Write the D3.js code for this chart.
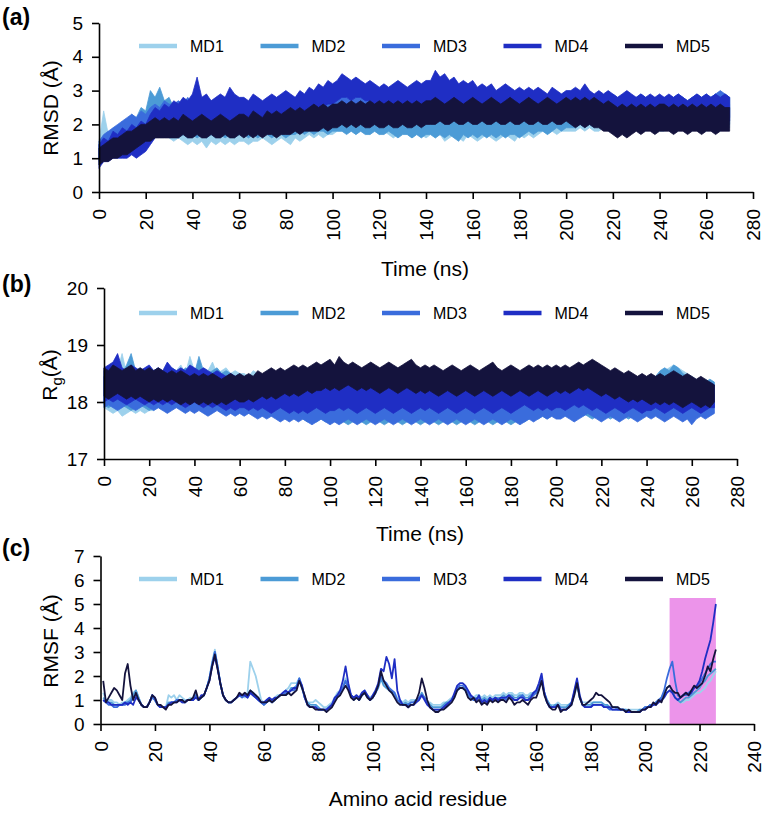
<!DOCTYPE html>
<html><head><meta charset="utf-8">
<script src="https://cdn.jsdelivr.net/npm/d3@7"></script>
<style>
body{margin:0;background:#fff}
svg{display:block}
text{font-family:"Liberation Sans",Arial,sans-serif;fill:#000}
</style>
</head><body>
<svg id="chart" width="769" height="814"></svg>
<script>
// ---------- DATA ----------
const seriesNames = ["MD1","MD2","MD3","MD4","MD5"];
const seriesColors = ["#9dd1ec","#4c9bd6","#3a6cdc","#1f2ec4","#14133d"];
const timeStepNs = 2;   // samples at 0,2,...,270 ns; each sample gives the upper / lower extent of the fluctuating trace

// RMSD (Å) upper and lower extents
const rmsdMD1Hi = [1.5,2.4,1.7,1.9,1.8,2.1,1.9,2.2,2.0,2.4,2.3, 2.8,2.6,2.9,2.5,2.4,
2.2,2.0,2.3,2.1,2.0,2.2,2.1,2.0,2.2,2.0,2.1,2.2,2.0,2.1,2.0,
2.1,2.2,2.0,2.1,2.2,2.0,2.1,2.2,2.1,2.0,2.2,2.1,2.2,2.3,2.1,2.2,2.3,2.2,2.3,2.2,
2.3,2.6,2.4,2.7,2.5,2.4,2.3,2.4,2.2,2.3,2.2,2.4,2.3,2.2,2.3,2.2,2.4,2.3,2.2,2.3,
2.2,2.3,2.1,2.2,2.3,2.2,2.1,2.2,2.3,2.1,2.2,2.3,2.2,2.1,2.2,2.3,2.2,2.1,2.2,2.3,2.2,2.1,2.2,2.3,2.2,2.2,2.3,2.2,2.3,2.3,
2.3,2.4,2.3,2.4,2.5,2.4,2.3,2.4,2.5,2.4,2.3,2.4,2.5,2.4,2.5,2.4,2.5,2.6,2.5,2.4,
2.5,2.6,2.5,2.6,2.5,2.6,2.7,2.6,2.7,2.8,2.7,2.9,2.8,2.7,2.6];
const rmsdMD1Lo = [0.8,1.0,1.1,1.2,1.2,1.3,1.3,1.4,1.5,1.5,1.6, 1.7,1.7,1.8,1.7,1.6,
1.5,1.6,1.5,1.4,1.5,1.4,1.5,1.3,1.5,1.4,1.5,1.4,1.5,1.4,1.5,
1.5,1.4,1.5,1.5,1.6,1.5,1.4,1.5,1.6,1.5,1.4,1.6,1.5,1.6,1.7,1.6,1.7,1.6,1.7,1.7,
1.8,1.8,1.9,1.8,1.7,1.8,1.8,1.7,1.8,1.7,1.8,1.7,1.6,1.7,1.8,1.7,1.6,1.7,1.7,1.6,
1.7,1.6,1.7,1.5,1.6,1.7,1.6,1.5,1.7,1.6,1.5,1.6,1.7,1.6,1.5,1.6,1.7,1.6,1.5,1.7,1.6,1.7,1.6,1.7,1.8,1.7,1.8,1.7,1.8,1.8,
1.8,1.8,1.9,1.8,1.9,1.8,1.8,1.9,1.8,1.9,1.8,1.9,1.9,1.8,1.9,1.9,1.8,1.9,1.9,1.8,
1.8,1.9,1.9,1.8,1.9,1.9,1.8,1.9,1.9,1.8,1.9,1.9,1.8,1.9,1.9];
const rmsdMD2Hi = [1.4,1.6,1.8,1.7,1.9,2.0,2.1,2.3,2.2,2.5,2.4, 3.0,2.8,3.1,2.7,2.8,
2.5,2.6,2.4,2.7,2.5,2.4,2.6,2.5,2.4,2.6,2.5,2.4,2.6,2.5,2.4,
2.5,2.4,2.6,2.5,2.4,2.5,2.6,2.4,2.5,2.4,2.5,2.6,2.5,2.4,2.5,2.6,2.5,2.4,2.5,2.5,
2.5,2.4,2.5,2.4,2.3,2.4,2.3,2.4,2.3,2.2,2.3,2.4,2.3,2.2,2.3,2.4,2.3,2.2,2.3,2.2,
2.2,2.1,2.2,2.1,2.2,2.1,2.2,2.2,2.1,2.2,2.1,2.2,2.1,2.2,2.1,2.2,2.1,2.2,2.1,2.2,2.2,2.1,2.2,2.3,2.2,2.3,2.2,2.3,2.3,2.4,
2.4,2.5,2.4,2.5,2.4,2.5,2.6,2.5,2.4,2.5,2.6,2.5,2.6,2.5,2.6,2.5,2.6,2.5,2.6,2.6,
2.6,2.7,2.6,2.7,2.6,2.7,2.8,2.7,2.8,2.7,2.8,2.9,2.8,2.9,2.8];
const rmsdMD2Lo = [0.9,1.0,1.1,1.2,1.2,1.3,1.4,1.4,1.5,1.6,1.6, 1.8,1.8,1.9,1.8,1.8,
1.7,1.6,1.7,1.6,1.7,1.6,1.7,1.6,1.7,1.6,1.7,1.6,1.7,1.6,1.7,
1.7,1.6,1.7,1.6,1.7,1.7,1.6,1.7,1.7,1.6,1.7,1.7,1.8,1.7,1.8,1.7,1.8,1.8,1.7,1.8,
1.8,1.8,1.7,1.8,1.7,1.8,1.7,1.7,1.8,1.7,1.7,1.8,1.7,1.6,1.7,1.7,1.6,1.7,1.6,1.7,
1.7,1.6,1.7,1.6,1.7,1.6,1.5,1.7,1.6,1.7,1.6,1.7,1.6,1.7,1.6,1.7,1.6,1.7,1.7,1.6,1.7,1.8,1.7,1.8,1.8,1.7,1.8,1.9,1.8,1.9,
1.9,1.9,2.0,1.9,2.0,1.9,2.0,1.9,2.0,1.9,2.0,1.9,2.0,2.0,1.9,2.0,2.0,1.9,2.0,2.0,
2.0,2.0,1.9,2.0,2.0,1.9,2.0,2.0,2.0,1.9,2.0,2.0,1.9,2.0,2.0];
const rmsdMD3Hi = [1.5,1.7,1.8,1.9,2.0,2.1,2.2,2.3,2.2,2.4,2.3, 2.5,2.6,2.5,2.7,2.6,
2.6,2.7,2.6,2.8,2.6,2.7,2.6,2.8,2.7,2.6,2.7,2.8,2.6,2.7,2.6,
2.7,2.6,2.8,2.7,2.6,2.7,2.8,2.7,2.6,2.8,2.7,2.8,2.7,2.8,2.9,2.8,2.7,2.8,2.9,2.8,
2.8,2.9,2.8,2.7,2.8,2.9,2.8,2.7,2.8,2.9,2.8,2.7,2.8,2.9,2.8,2.7,2.8,2.9,2.8,2.7,
2.8,2.9,2.8,2.7,2.8,2.9,2.8,2.7,2.8,2.9,2.8,2.7,2.8,2.9,2.8,2.7,2.8,2.9,2.8,2.7,2.8,2.9,2.8,2.7,2.8,2.8,2.7,2.8,2.9,2.8,
2.8,2.7,2.8,2.9,2.8,2.7,2.8,2.7,2.8,2.9,2.8,2.7,2.8,2.7,2.8,2.9,2.8,2.7,2.8,2.7,
2.8,2.7,2.8,2.9,2.8,2.7,2.8,2.9,2.8,2.9,2.8,2.9,3.0,2.9,2.8];
const rmsdMD3Lo = [1.0,1.0,1.1,1.2,1.3,1.4,1.4,1.5,1.5,1.6,1.6, 1.7,1.8,1.8,1.7,1.8,
1.9,1.9,2.0,1.9,2.0,1.9,2.0,1.9,2.0,1.9,2.0,1.9,2.0,1.9,2.0,
2.0,1.9,2.0,2.0,1.9,2.0,2.0,2.1,2.0,2.0,2.1,2.0,2.1,2.1,2.0,2.1,2.1,2.2,2.1,2.2,
2.1,2.2,2.1,2.2,2.1,2.2,2.2,2.1,2.2,2.1,2.2,2.2,2.1,2.2,2.1,2.2,2.2,2.1,2.2,2.1,
2.1,2.2,2.1,2.2,2.1,2.2,2.1,2.2,2.1,2.2,2.1,2.2,2.1,2.2,2.1,2.2,2.1,2.2,2.1,2.2,2.1,2.2,2.1,2.2,2.1,2.2,2.1,2.2,2.1,2.2,
2.1,2.2,2.1,2.2,2.1,2.1,2.2,2.1,2.1,2.2,2.1,2.1,2.2,2.1,2.1,2.2,2.1,2.1,2.2,2.1,
2.1,2.1,2.2,2.1,2.1,2.2,2.1,2.1,2.2,2.1,2.1,2.2,2.1,2.1,2.2];
const rmsdMD4Hi = [1.4,1.6,1.5,1.8,1.7,1.9,1.8,2.0,1.9,2.1,2.0, 2.3,2.5,2.4,2.6,2.5,
2.7,2.6,2.8,2.7,2.9,3.4,2.8,2.9,2.7,2.8,2.9,2.8,3.1,2.9,2.8,
2.8,2.7,2.9,2.8,2.7,2.8,2.9,2.8,2.9,3.0,2.9,2.8,3.0,2.9,3.1,3.0,3.2,3.1,3.3,3.2,
3.3,3.5,3.4,3.3,3.4,3.3,3.2,3.3,3.2,3.1,3.2,3.1,3.2,3.3,3.2,3.1,3.2,3.3,3.2,3.3,
3.3,3.6,3.4,3.5,3.3,3.4,3.2,3.3,3.2,3.3,3.1,3.2,3.1,3.2,3.0,3.1,3.2,3.1,3.0,3.1,3.0,3.1,3.0,3.1,3.0,2.9,3.1,3.0,2.9,3.0,
3.0,3.1,3.0,3.2,3.0,2.9,3.0,2.9,3.0,2.9,2.8,2.9,3.0,2.9,2.8,2.9,2.8,2.9,2.8,2.9,
2.8,2.9,2.8,2.9,2.8,2.7,2.8,2.9,2.8,2.9,2.8,2.9,2.8,2.9,2.8];
const rmsdMD4Lo = [0.7,0.9,0.9,1.0,1.0,1.0,1.0,1.1,1.0,1.1,1.2, 1.4,1.6,1.7,1.8,1.8,
1.9,1.9,2.0,1.9,2.0,2.0,1.9,2.0,2.0,1.9,2.0,2.0,2.0,1.9,2.0,
2.0,2.0,2.1,2.0,2.0,2.1,2.1,2.0,2.1,2.2,2.1,2.2,2.2,2.3,2.3,2.4,2.4,2.5,2.6,2.6,
2.7,2.8,2.8,2.7,2.8,2.8,2.7,2.7,2.6,2.6,2.6,2.5,2.5,2.6,2.5,2.5,2.5,2.6,2.5,2.5,
2.5,2.6,2.5,2.6,2.5,2.4,2.5,2.4,2.5,2.4,2.4,2.3,2.4,2.3,2.4,2.3,2.4,2.3,2.4,2.3,2.3,2.4,2.3,2.3,2.4,2.3,2.3,2.2,2.3,2.3,
2.2,2.3,2.2,2.2,2.3,2.2,2.2,2.1,2.2,2.1,2.0,2.1,2.1,2.2,2.1,2.1,2.2,2.1,2.1,2.2,
2.1,2.1,2.2,2.1,2.1,2.2,2.1,2.1,2.2,2.1,2.1,2.2,2.1,2.1,2.1];
const rmsdMD5Hi = [1.3,1.4,1.5,1.6,1.6,1.7,1.8,1.8,1.9,2.0,2.0, 2.1,2.2,2.1,2.2,2.1,
2.2,2.1,2.3,2.2,2.1,2.2,2.3,2.2,2.1,2.2,2.3,2.2,2.1,2.2,2.3,
2.3,2.2,2.4,2.3,2.2,2.4,2.3,2.4,2.3,2.4,2.5,2.4,2.5,2.4,2.5,2.6,2.5,2.6,2.5,2.6,
2.6,2.7,2.6,2.7,2.6,2.7,2.6,2.7,2.6,2.7,2.6,2.7,2.6,2.7,2.6,2.7,2.6,2.7,2.6,2.7,
2.7,2.8,2.7,2.6,2.7,2.8,2.7,2.6,2.7,2.8,2.7,2.6,2.7,2.8,2.7,2.6,2.7,2.8,2.7,2.6,2.7,2.8,2.7,2.6,2.7,2.8,2.7,2.6,2.7,2.8,
2.7,2.8,2.7,2.8,2.7,2.8,2.7,2.6,2.7,2.6,2.5,2.6,2.5,2.6,2.5,2.6,2.5,2.6,2.5,2.6,
2.6,2.5,2.6,2.5,2.6,2.5,2.6,2.5,2.6,2.5,2.6,2.5,2.6,2.5,2.5];
const rmsdMD5Lo = [0.8,0.9,0.9,1.0,1.0,1.1,1.1,1.2,1.3,1.4,1.5, 1.5,1.6,1.6,1.6,1.6,
1.6,1.6,1.7,1.6,1.6,1.7,1.6,1.6,1.7,1.6,1.6,1.7,1.6,1.6,1.7,
1.6,1.7,1.6,1.7,1.6,1.7,1.7,1.6,1.7,1.7,1.7,1.8,1.7,1.8,1.8,1.8,1.8,1.9,1.8,1.9,
1.9,2.0,1.9,2.0,1.9,2.0,1.9,1.9,2.0,1.9,1.9,2.0,1.9,1.9,2.0,1.9,1.9,2.0,1.9,2.0,
2.0,2.0,2.1,2.0,2.0,2.1,2.0,2.0,2.1,2.0,2.0,2.1,2.0,2.0,2.1,2.0,2.0,2.1,2.0,2.0,2.1,2.0,2.0,2.1,2.0,2.0,2.1,2.0,2.0,2.1,
2.0,1.9,2.0,1.9,2.0,1.9,1.9,1.8,1.8,1.7,1.6,1.7,1.6,1.7,1.8,1.7,1.8,1.8,1.7,1.8,
1.8,1.8,1.7,1.8,1.8,1.7,1.8,1.8,1.7,1.8,1.8,1.7,1.8,1.8,1.8];

// Rg (Å) upper and lower extents
const rgMD1Hi = [18.45,18.60,18.50,18.55,18.85,18.50,18.45,18.60,18.50,18.45,18.55,
18.50,18.55,18.45,18.60,18.50,18.55,18.65,18.50,18.80,18.55,18.50,18.60,18.55,18.70,18.50,18.55,18.60,18.50,18.55,18.50,
18.50,18.45,18.55,18.50,18.45,18.55,18.50,18.45,18.50,18.55,18.50,18.45,18.50,18.55,18.60,18.50,18.55,18.50,18.45,18.50,
18.40,18.35,18.30,18.35,18.25,18.30,18.25,18.20,18.25,18.20,18.25,18.20,18.15,18.20,18.25,18.20,18.15,18.20,18.25,18.20,
18.20,18.25,18.40,18.20,18.15,18.20,18.25,18.20,18.15,18.20,18.25,18.20,18.15,18.20,18.25,18.20,18.15,18.20,18.25,18.20,18.15,18.20,18.25,18.20,18.15,18.20,18.25,18.20,18.25,18.30,
18.30,18.25,18.30,18.35,18.30,18.25,18.30,18.35,18.30,18.25,18.30,18.35,18.30,18.25,18.30,18.35,18.30,18.25,18.30,18.35,
18.35,18.40,18.50,18.55,18.60,18.65,18.60,18.55,18.50,18.45,18.40,18.35,18.40,18.35,18.30];
const rgMD1Lo = [17.90,17.85,17.80,17.85,17.75,17.80,17.85,17.80,17.85,17.80,17.85,
17.85,17.90,17.85,17.90,17.95,17.90,17.95,17.90,17.95,18.00,17.95,18.00,17.95,18.00,17.95,18.00,17.95,18.00,17.95,17.95,
17.95,17.90,17.95,17.90,17.95,17.90,17.85,17.90,17.85,17.90,17.85,17.90,17.85,17.80,17.85,17.80,17.85,17.80,17.85,17.80,
17.80,17.75,17.80,17.75,17.70,17.75,17.70,17.75,17.70,17.65,17.70,17.75,17.70,17.65,17.70,17.75,17.70,17.65,17.70,17.65,
17.70,17.65,17.70,17.75,17.70,17.65,17.70,17.75,17.70,17.65,17.70,17.75,17.70,17.65,17.70,17.75,17.70,17.65,17.70,17.75,17.70,17.65,17.70,17.75,17.70,17.75,17.80,17.75,17.80,17.75,
17.80,17.75,17.80,17.85,17.80,17.75,17.80,17.85,17.80,17.75,17.80,17.85,17.80,17.75,17.80,17.85,17.80,17.75,17.80,17.85,
17.85,17.90,17.95,18.00,18.05,18.00,17.95,17.90,17.85,17.90,17.85,17.90,17.85,17.90,17.95];
const rgMD2Hi = [18.55,18.50,18.60,18.55,18.50,18.65,18.85,18.55,18.60,18.50,18.55,
18.55,18.60,18.50,18.55,18.60,18.55,18.50,18.60,18.55,18.50,18.80,18.55,18.50,18.55,18.60,18.50,18.55,18.50,18.45,18.50,
18.40,18.35,18.30,18.35,18.30,18.25,18.30,18.25,18.20,18.25,18.20,18.15,18.20,18.15,18.10,18.15,18.10,18.05,18.10,18.05,
18.10,18.05,18.10,18.05,18.00,18.05,18.10,18.05,18.00,18.05,18.10,18.05,18.00,18.05,18.10,18.05,18.00,18.05,18.10,18.05,
18.05,18.10,18.05,18.00,18.05,18.10,18.05,18.00,18.05,18.10,18.05,18.00,18.05,18.10,18.05,18.00,18.05,18.10,18.05,18.00,18.05,18.10,18.05,18.10,18.15,18.10,18.15,18.10,18.15,18.20,
18.15,18.20,18.15,18.10,18.15,18.20,18.15,18.10,18.15,18.20,18.15,18.10,18.15,18.20,18.15,18.10,18.15,18.20,18.25,18.30,
18.35,18.45,18.55,18.60,18.55,18.65,18.60,18.50,18.45,18.40,18.35,18.40,18.35,18.40,18.35];
const rgMD2Lo = [17.95,17.90,17.95,17.90,17.95,17.90,17.85,17.90,17.95,17.90,17.85,
17.90,17.95,17.90,17.95,17.90,17.95,17.90,17.95,17.90,17.85,17.90,17.85,17.90,17.85,17.90,17.85,17.90,17.85,17.80,17.85,
17.85,17.80,17.85,17.80,17.75,17.80,17.75,17.80,17.75,17.70,17.75,17.70,17.75,17.70,17.65,17.70,17.65,17.70,17.65,17.70,
17.65,17.70,17.65,17.60,17.65,17.70,17.65,17.60,17.65,17.70,17.65,17.60,17.65,17.70,17.65,17.60,17.65,17.70,17.65,17.60,
17.65,17.70,17.65,17.60,17.65,17.70,17.65,17.60,17.65,17.70,17.65,17.60,17.65,17.70,17.65,17.60,17.65,17.70,17.65,17.60,17.65,17.70,17.65,17.70,17.75,17.70,17.75,17.70,17.75,17.80,
17.75,17.80,17.75,17.70,17.75,17.80,17.75,17.70,17.75,17.80,17.75,17.70,17.75,17.80,17.75,17.70,17.75,17.80,17.85,17.90,
17.90,17.95,18.00,18.05,18.00,18.05,18.00,17.95,17.90,17.85,17.90,17.85,17.90,17.85,17.90];
const rgMD3Hi = [18.45,18.40,18.50,18.45,18.40,18.50,18.45,18.40,18.50,18.45,18.40,
18.40,18.45,18.40,18.35,18.40,18.45,18.40,18.35,18.40,18.35,18.30,18.35,18.30,18.25,18.30,18.35,18.30,18.25,18.30,18.25,
18.25,18.20,18.25,18.20,18.15,18.20,18.15,18.10,18.15,18.20,18.15,18.10,18.15,18.10,18.05,18.10,18.05,18.10,18.05,18.00,
18.05,18.00,18.05,18.00,17.95,18.00,18.05,18.00,17.95,18.00,18.05,18.00,17.95,18.00,18.05,18.00,17.95,18.00,18.05,18.00,
18.00,18.05,18.00,17.95,18.00,18.05,18.00,17.95,18.00,18.05,18.00,17.95,18.00,18.05,18.00,17.95,18.00,18.05,18.00,17.95,18.00,18.05,18.00,17.95,18.00,18.05,18.10,18.05,18.10,18.05,
18.05,18.10,18.05,18.00,18.05,18.10,18.15,18.10,18.05,18.00,18.05,18.10,18.05,18.00,18.05,18.10,18.05,18.00,18.05,18.10,
18.05,18.10,18.05,18.00,18.05,18.10,18.05,18.00,18.05,18.10,18.05,18.00,18.05,18.10,18.15];
const rgMD3Lo = [17.90,17.95,17.90,17.85,17.90,17.95,17.90,17.85,17.90,17.95,17.90,
17.85,17.90,17.85,17.80,17.85,17.90,17.85,17.80,17.85,17.80,17.85,17.80,17.75,17.80,17.85,17.80,17.75,17.80,17.75,17.80,
17.75,17.80,17.75,17.70,17.75,17.70,17.75,17.70,17.65,17.70,17.65,17.70,17.65,17.70,17.65,17.60,17.65,17.70,17.65,17.60,
17.65,17.60,17.65,17.70,17.65,17.60,17.65,17.70,17.65,17.60,17.65,17.70,17.65,17.60,17.65,17.70,17.65,17.60,17.65,17.70,
17.65,17.60,17.65,17.70,17.65,17.60,17.65,17.70,17.65,17.60,17.65,17.70,17.65,17.60,17.65,17.70,17.65,17.60,17.65,17.70,17.65,17.60,17.65,17.70,17.65,17.70,17.75,17.70,17.75,17.70,
17.70,17.75,17.70,17.65,17.70,17.75,17.80,17.75,17.70,17.65,17.70,17.75,17.70,17.65,17.70,17.75,17.70,17.65,17.70,17.75,
17.70,17.75,17.70,17.65,17.70,17.75,17.70,17.65,17.70,17.60,17.70,17.75,17.70,17.75,17.80];
const rgMD4Hi = [18.60,18.65,18.70,18.85,18.60,18.55,18.65,18.60,18.55,18.60,18.65,
18.55,18.60,18.55,18.70,18.60,18.55,18.60,18.55,18.65,18.60,18.55,18.60,18.55,18.50,18.55,18.50,18.45,18.50,18.45,18.40,
18.40,18.45,18.40,18.35,18.40,18.45,18.40,18.35,18.40,18.35,18.30,18.35,18.30,18.35,18.30,18.35,18.40,18.35,18.30,18.35,
18.35,18.40,18.45,18.40,18.35,18.30,18.35,18.30,18.25,18.30,18.35,18.30,18.25,18.30,18.35,18.30,18.25,18.30,18.35,18.30,
18.30,18.25,18.30,18.35,18.30,18.25,18.30,18.35,18.30,18.25,18.30,18.35,18.30,18.25,18.30,18.35,18.30,18.25,18.30,18.35,18.30,18.35,18.40,18.35,18.30,18.35,18.30,18.35,18.30,18.35,
18.35,18.30,18.35,18.40,18.45,18.40,18.45,18.40,18.35,18.30,18.35,18.30,18.25,18.30,18.35,18.30,18.25,18.30,18.35,18.30,
18.30,18.35,18.30,18.25,18.30,18.35,18.30,18.25,18.30,18.35,18.30,18.25,18.30,18.35,18.30];
const rgMD4Lo = [18.00,18.05,18.00,18.05,18.00,17.95,18.00,18.05,18.00,17.95,18.00,
17.95,18.00,17.95,18.00,17.95,18.00,17.95,17.90,17.95,18.00,17.95,17.90,17.95,17.90,17.95,17.90,17.85,17.90,17.85,17.90,
17.90,17.85,17.90,17.85,17.90,17.85,17.80,17.85,17.90,17.85,17.80,17.85,17.80,17.85,17.80,17.85,17.90,17.85,17.80,17.85,
17.85,17.90,17.85,17.90,17.85,17.80,17.85,17.90,17.85,17.80,17.85,17.90,17.85,17.80,17.85,17.90,17.85,17.80,17.85,17.90,
17.85,17.90,17.85,17.80,17.85,17.90,17.85,17.80,17.85,17.90,17.85,17.80,17.85,17.90,17.85,17.80,17.85,17.90,17.85,17.80,17.85,17.90,17.95,17.90,17.85,17.90,17.85,17.90,17.85,17.90,
17.90,17.85,17.90,17.95,17.90,17.95,17.90,17.85,17.90,17.85,17.80,17.85,17.90,17.85,17.80,17.85,17.90,17.85,17.80,17.85,
17.85,17.90,17.85,17.80,17.85,17.90,17.85,17.80,17.85,17.90,17.85,17.80,17.85,17.90,17.90];
const rgMD5Hi = [18.60,18.55,18.65,18.60,18.55,18.60,18.65,18.55,18.60,18.55,18.60,
18.55,18.60,18.55,18.50,18.55,18.50,18.55,18.50,18.45,18.50,18.45,18.50,18.45,18.50,18.45,18.40,18.45,18.50,18.45,18.50,
18.45,18.50,18.45,18.55,18.50,18.55,18.60,18.55,18.60,18.55,18.60,18.65,18.60,18.65,18.60,18.65,18.70,18.65,18.70,18.75,
18.65,18.80,18.70,18.65,18.70,18.65,18.60,18.65,18.70,18.65,18.60,18.65,18.70,18.65,18.60,18.65,18.70,18.75,18.65,18.60,
18.65,18.60,18.65,18.60,18.55,18.60,18.65,18.60,18.55,18.60,18.65,18.60,18.55,18.60,18.65,18.70,18.60,18.55,18.60,18.65,18.60,18.55,18.60,18.65,18.60,18.65,18.60,18.65,18.60,18.65,
18.60,18.65,18.60,18.65,18.70,18.65,18.70,18.75,18.70,18.65,18.60,18.55,18.60,18.55,18.50,18.55,18.50,18.45,18.50,18.45,
18.50,18.45,18.50,18.45,18.50,18.55,18.50,18.45,18.50,18.45,18.40,18.45,18.40,18.35,18.30];
const rgMD5Lo = [18.10,18.05,18.10,18.15,18.10,18.05,18.10,18.05,18.10,18.05,18.00,
18.05,18.00,18.05,18.00,18.05,18.00,17.95,18.00,17.95,18.00,17.95,18.00,17.95,18.00,17.95,18.00,17.95,18.00,18.05,18.00,
18.00,18.05,18.00,18.05,18.10,18.05,18.10,18.05,18.10,18.15,18.10,18.15,18.10,18.15,18.20,18.15,18.20,18.20,18.25,18.20,
18.25,18.20,18.25,18.30,18.25,18.20,18.25,18.20,18.25,18.20,18.15,18.20,18.25,18.20,18.15,18.20,18.25,18.20,18.15,18.20,
18.15,18.20,18.15,18.10,18.15,18.20,18.15,18.10,18.15,18.20,18.15,18.10,18.15,18.20,18.15,18.10,18.15,18.20,18.15,18.10,18.15,18.20,18.15,18.10,18.15,18.20,18.15,18.10,18.15,18.20,
18.15,18.20,18.15,18.20,18.25,18.20,18.25,18.20,18.15,18.10,18.15,18.10,18.05,18.10,18.05,18.00,18.05,18.00,18.05,18.00,
17.95,18.00,17.95,18.00,17.95,18.00,17.95,17.90,17.95,18.00,17.95,17.90,17.95,17.90,18.00];

// RMSF (Å) per residue, residue 1..226
const rmsfMD1 = [1.3,1.0,1.0,1.0,0.9,0.9,0.8,0.9,0.9,1.0,1.1,1.3,1.4,1.1,0.8,0.7,0.7,0.9,1.2,1.0,
0.8,0.7,0.7,0.7,1.2,1.1,1.2,1.0,1.2,1.1,1.0,1.0,1.1,1.0,1.2,1.0,1.1,1.2,1.5,1.9,
2.6,3.1,2.4,1.7,1.2,1.0,0.9,0.9,1.0,1.1,1.2,1.2,1.1,1.3,2.6,2.3,2.0,1.5,1.0,0.9,
0.9,1.0,1.0,1.1,1.2,1.2,1.3,1.4,1.5,1.7,1.7,1.7,1.9,1.5,1.1,0.9,0.9,0.9,1.0,0.9,
0.8,0.7,0.7,0.8,0.9,1.1,1.3,1.4,1.6,1.9,1.6,1.2,1.1,1.2,1.1,1.3,1.4,1.2,1.1,1.2,
1.4,1.6,1.9,1.7,1.6,1.5,1.4,1.3,1.1,1.0,0.9,1.0,0.9,1.0,1.0,1.0,1.1,1.2,1.1,0.9,
0.9,0.8,0.8,0.8,0.8,0.9,0.9,1.0,1.1,1.2,1.4,1.5,1.5,1.4,1.2,1.1,1.1,1.2,1.2,1.1,
1.2,1.1,1.2,1.1,1.2,1.2,1.2,1.3,1.2,1.3,1.3,1.2,1.2,1.3,1.3,1.2,1.2,1.3,1.3,1.4,
1.5,1.8,1.3,1.0,0.8,0.8,0.8,0.9,0.8,0.8,0.8,0.8,0.9,1.2,1.6,1.1,0.9,0.9,0.9,0.9,
0.9,0.9,0.9,0.9,0.8,0.8,0.7,0.7,0.7,0.7,0.6,0.6,0.6,0.6,0.6,0.6,0.6,0.6,0.6,0.7,
0.7,0.8,0.8,0.9,1.0,1.0,1.1,1.3,1.4,1.3,1.1,1.0,0.9,0.9,1.0,1.0,1.1,1.2,1.3,1.3,
1.4,1.5,1.7,1.8,2.0,2.2];
const rmsfMD2 = [1.1,1.0,0.9,0.9,0.8,0.8,0.8,0.8,0.9,0.9,1.0,1.2,1.4,1.1,0.8,0.7,0.7,0.9,1.2,1.0,
0.8,0.7,0.7,0.7,0.9,0.9,0.9,1.0,1.0,1.0,0.9,1.0,1.0,1.0,1.2,1.0,1.1,1.2,1.5,1.9,
2.5,3.0,2.4,1.7,1.2,1.0,0.9,0.9,1.0,1.1,1.2,1.2,1.2,1.2,1.4,1.3,1.2,1.0,0.9,0.8,
0.9,1.0,0.9,1.0,1.1,1.2,1.2,1.2,1.3,1.5,1.5,1.6,1.9,1.5,1.1,0.9,0.8,0.8,0.8,0.7,
0.6,0.6,0.6,0.7,0.8,1.0,1.2,1.3,1.5,1.8,1.5,1.2,1.0,1.1,1.0,1.2,1.3,1.1,1.0,1.1,
1.3,1.5,1.9,1.6,1.5,1.4,1.3,1.2,1.0,0.9,0.8,0.9,0.8,0.9,0.9,1.0,1.1,1.3,1.1,0.9,
0.8,0.7,0.7,0.7,0.7,0.8,0.9,0.9,1.0,1.2,1.4,1.5,1.5,1.4,1.2,1.1,1.0,1.1,1.1,1.0,
1.1,1.0,1.1,1.0,1.1,1.1,1.1,1.2,1.1,1.2,1.2,1.1,1.1,1.2,1.2,1.1,1.1,1.2,1.3,1.3,
1.5,1.8,1.3,1.0,0.8,0.7,0.8,0.8,0.7,0.7,0.7,0.8,0.9,1.3,1.7,1.1,0.8,0.8,0.8,0.8,
0.9,0.9,0.9,0.9,0.8,0.8,0.7,0.7,0.7,0.6,0.6,0.6,0.6,0.5,0.5,0.5,0.5,0.6,0.6,0.7,
0.7,0.8,0.8,0.9,1.0,1.1,1.3,1.5,1.6,1.4,1.1,1.0,0.9,1.0,1.1,1.1,1.2,1.3,1.4,1.5,
1.7,1.8,2.0,2.1,2.2,2.3];
const rmsfMD3 = [1.0,0.9,0.8,0.8,0.7,0.7,0.8,0.8,0.8,0.9,0.9,1.1,1.2,1.0,0.8,0.7,0.7,0.9,1.1,1.0,
0.8,0.7,0.7,0.7,0.8,0.9,0.9,1.0,1.0,0.9,0.9,1.0,1.0,1.0,1.2,1.0,1.1,1.2,1.5,1.9,
2.5,3.0,2.4,1.7,1.2,1.0,0.9,0.9,1.0,1.1,1.2,1.1,1.2,1.1,1.3,1.2,1.1,1.0,0.9,0.8,
0.9,1.0,0.9,1.0,1.1,1.2,1.2,1.3,1.3,1.4,1.4,1.5,1.9,1.6,1.1,0.8,0.7,0.7,0.7,0.6,
0.6,0.6,0.6,0.7,0.8,1.0,1.2,1.3,1.5,1.8,1.5,1.2,1.1,1.1,1.0,1.2,1.3,1.2,1.0,1.1,
1.3,1.6,2.0,1.8,1.7,1.5,1.4,1.3,1.0,0.9,0.8,0.8,0.8,0.9,0.9,1.0,1.1,1.2,1.1,0.9,
0.7,0.6,0.6,0.6,0.6,0.7,0.8,0.9,1.0,1.2,1.5,1.6,1.6,1.5,1.3,1.1,1.0,1.0,1.1,0.9,
1.0,0.9,1.0,1.0,1.1,1.0,1.0,1.1,1.0,1.1,1.1,1.0,1.0,1.1,1.2,1.0,1.0,1.1,1.2,1.3,
1.5,1.9,1.3,0.9,0.7,0.7,0.7,0.8,0.6,0.6,0.6,0.7,0.8,1.3,1.8,1.1,0.8,0.7,0.7,0.7,
0.8,0.8,0.8,0.8,0.7,0.7,0.6,0.6,0.6,0.6,0.6,0.6,0.5,0.5,0.5,0.5,0.5,0.5,0.6,0.7,
0.7,0.8,0.8,0.9,1.0,1.1,1.4,1.9,2.3,2.6,1.8,1.2,1.1,1.2,1.2,1.3,1.4,1.5,1.6,1.7,
1.9,2.1,2.3,2.5,2.6,2.6];
const rmsfMD4 = [1.0,0.9,0.9,0.8,0.8,0.8,0.8,0.8,0.9,0.8,0.9,0.8,1.1,1.0,0.8,0.7,0.7,0.9,1.2,1.1,
0.8,0.7,0.7,0.7,0.8,0.9,0.9,0.9,1.0,0.9,0.9,1.0,1.0,1.0,1.1,1.0,1.2,1.2,1.5,1.8,
2.4,2.8,2.3,1.7,1.2,1.0,0.9,0.9,1.0,1.1,1.2,1.2,1.2,1.1,1.3,1.2,1.1,1.0,0.9,0.9,
1.0,1.1,1.0,1.1,1.1,1.2,1.3,1.4,1.3,1.4,1.5,1.5,1.8,1.6,1.1,0.8,0.7,0.7,0.7,0.6,
0.6,0.6,0.6,0.7,0.8,1.1,1.2,1.4,1.8,2.4,1.7,1.2,1.1,1.2,1.1,1.3,1.4,1.2,1.0,1.2,
1.4,1.7,2.3,2.2,2.8,2.5,1.9,2.7,1.4,1.0,0.8,0.8,0.7,0.8,0.8,0.9,1.0,1.2,1.0,0.8,
0.7,0.6,0.6,0.6,0.6,0.7,0.8,0.9,1.0,1.3,1.6,1.7,1.7,1.6,1.4,1.2,1.1,1.0,1.2,0.9,
1.0,0.9,1.1,1.0,1.1,1.0,1.1,1.1,1.1,1.2,1.1,1.0,1.0,1.1,1.1,1.0,1.0,1.1,1.3,1.4,
1.7,2.1,1.3,0.9,0.7,0.7,0.7,0.8,0.6,0.6,0.6,0.7,0.9,1.4,1.9,1.2,0.8,0.7,0.7,0.7,
0.8,0.8,0.8,0.8,0.7,0.7,0.7,0.6,0.6,0.6,0.6,0.6,0.5,0.5,0.5,0.5,0.5,0.5,0.6,0.6,
0.7,0.7,0.8,0.8,0.9,1.0,1.1,1.3,1.4,1.3,1.1,1.0,1.1,1.2,1.3,1.2,1.3,1.5,1.6,1.8,
2.2,2.7,3.1,3.5,4.2,5.0];
const rmsfMD5 = [1.8,0.9,1.1,1.3,1.5,1.4,1.2,1.0,2.1,2.5,1.6,1.0,1.3,1.0,0.8,0.7,0.7,0.9,1.2,1.1,
0.8,0.8,0.7,0.6,0.8,0.8,0.9,0.9,1.0,1.0,0.9,1.0,1.0,1.1,1.4,1.0,1.1,1.2,1.5,1.8,
2.4,2.9,2.3,1.7,1.2,1.0,0.9,0.9,1.0,1.1,1.3,1.2,1.3,1.2,1.4,1.3,1.2,1.1,0.9,0.9,
0.9,1.0,0.9,1.0,1.1,1.2,1.2,1.2,1.3,1.2,1.3,1.4,1.8,1.5,1.2,0.8,0.7,0.7,0.6,0.6,
0.6,0.6,0.5,0.6,0.7,0.9,1.1,1.2,1.4,1.6,1.4,1.1,1.0,1.1,1.0,1.2,1.3,1.1,1.0,1.1,
1.3,1.6,2.2,1.8,1.6,1.4,1.3,1.1,0.9,0.8,0.8,0.8,0.7,0.8,0.8,1.0,1.3,1.9,1.5,1.0,
0.7,0.6,0.5,0.5,0.6,0.6,0.7,0.8,0.9,1.1,1.4,1.5,1.5,1.4,1.1,1.0,1.1,0.9,1.0,0.8,
0.9,0.8,1.0,0.9,1.0,0.9,1.0,1.0,0.9,1.1,1.0,0.8,0.9,0.9,1.0,0.9,0.8,1.0,1.1,1.1,
1.4,1.8,1.2,0.9,0.7,0.6,0.6,0.8,0.5,0.6,0.6,0.7,0.8,1.2,1.7,1.1,0.8,0.8,0.9,1.0,
1.1,1.3,1.2,1.2,1.1,1.0,0.9,0.7,0.7,0.7,0.6,0.6,0.5,0.6,0.5,0.5,0.5,0.5,0.6,0.6,
0.7,0.7,0.9,0.8,1.0,0.9,1.2,1.5,1.6,1.4,1.3,1.3,1.1,1.2,1.3,1.2,1.4,1.6,1.5,1.6,
1.7,2.0,2.4,2.2,2.7,3.1];

const highlightResidues = [209, 226];
const highlightTop = 5.25;

const timeTicks = [0,20,40,60,80,100,120,140,160,180,200,220,240,260,280];
const residueTicks = [0,20,40,60,80,100,120,140,160,180,200,220,240];
const rmsdTicks = [0,1,2,3,4,5];
const rgTicks = [17,18,19,20];
const rmsfTicks = [0,1,2,3,4,5,6,7];

// ---------- DRAW ----------
const svg = d3.select("#chart");
const FONT_TICK = 19;

function drawPanel(cfg){
  const x = d3.scaleLinear().domain(cfg.xDomain).range(cfg.xRange);
  const y = d3.scaleLinear().domain(cfg.yDomain).range(cfg.yRange);
  const g = svg.append("g");

  if (cfg.highlight){
    g.append("rect")
      .attr("x", x(cfg.highlight[0]))
      .attr("width", x(cfg.highlight[1]) - x(cfg.highlight[0]))
      .attr("y", y(cfg.highlight[2]))
      .attr("height", y(0) - y(cfg.highlight[2]))
      .attr("fill", "#ec94ea");
  }

  if (cfg.bands){
    // fluctuating trajectories: upper/lower extents per sample
    const area = d3.area().x(d => x(d.t)).y0(d => y(d.lo)).y1(d => y(d.hi));
    cfg.bands.forEach((b, i) => {
      const pts = b.hi.map((h, j) => ({t: j * timeStepNs, hi: h, lo: b.lo[j]}));
      g.append("path").datum(pts)
        .attr("d", area)
        .attr("fill", seriesColors[i])
        .attr("stroke", seriesColors[i])
        .attr("stroke-width", 0.8)
        .attr("stroke-linejoin", "miter");
    });
  }
  if (cfg.series){
    const line = d3.line().x(d => x(d[0])).y(d => y(d[1]));
    cfg.series.forEach((vals, i) => {
      const pts = vals.map((v, j) => [j + 1, v]);
      g.append("path").datum(pts)
        .attr("d", line)
        .attr("fill", "none")
        .attr("stroke", seriesColors[i])
        .attr("stroke-width", 1.8)
        .attr("stroke-linejoin", "round");
    });
  }

  const gx = g.append("g").attr("transform", `translate(0,${y(cfg.yDomain[0])})`)
    .call(d3.axisBottom(x).tickValues(cfg.xTicks).tickFormat(d3.format("d")).tickSize(7).tickSizeOuter(0));
  gx.selectAll("text")
    .attr("transform", "rotate(-90)")
    .attr("text-anchor", "end")
    .attr("x", -17).attr("y", 0).attr("dy", "0.35em")
    .style("font-size", FONT_TICK + "px");

  const gy = g.append("g").attr("transform", `translate(${x(cfg.xDomain[0])},0)`)
    .call(d3.axisLeft(y).tickValues(cfg.yTicks).tickFormat(d3.format("d")).tickSize(7).tickSizeOuter(0));
  gy.selectAll("text").attr("x", -16).style("font-size", FONT_TICK + "px");

  [gx, gy].forEach(a => {
    a.selectAll("path,line").attr("stroke", "#000").attr("stroke-width", 1.6);
    a.selectAll("text").attr("fill", "#000").style("font-family", '"Liberation Sans",Arial,sans-serif');
  });

  // legend
  seriesNames.forEach((name, i) => {
    const lx = 139 + i * 121.5;
    g.append("line").attr("x1", lx).attr("x2", lx + 38)
      .attr("y1", cfg.legendY).attr("y2", cfg.legendY)
      .attr("stroke", seriesColors[i]).attr("stroke-width", 4.5);
    g.append("text").attr("x", lx + 51).attr("y", cfg.legendY).attr("dy", "0.36em")
      .style("font-size", "16px").text(name);
  });

  g.append("text").attr("x", cfg.xTitlePos[0]).attr("y", cfg.xTitlePos[1])
    .attr("text-anchor", "middle").style("font-size", "21px").text(cfg.xTitle);

  const yt = g.append("text")
    .attr("transform", `translate(${cfg.yTitlePos[0]},${cfg.yTitlePos[1]}) rotate(-90)`)
    .attr("text-anchor", "middle").style("font-size", "21px");
  cfg.yTitle(yt);

  g.append("text").attr("x", 2).attr("y", cfg.labelY)
    .style("font-size", "23px").style("font-weight", "bold").text(cfg.label);
}

drawPanel({
  bands: [{hi: rmsdMD1Hi, lo: rmsdMD1Lo}, {hi: rmsdMD2Hi, lo: rmsdMD2Lo}, {hi: rmsdMD3Hi, lo: rmsdMD3Lo},
          {hi: rmsdMD4Hi, lo: rmsdMD4Lo}, {hi: rmsdMD5Hi, lo: rmsdMD5Lo}],
  xDomain: [0, 280], xRange: [99, 753],
  yDomain: [0, 5], yRange: [192, 23],
  xTicks: timeTicks, yTicks: rmsdTicks,
  legendY: 46,
  xTitle: "Time (ns)", xTitlePos: [425, 276],
  yTitle: t => t.text("RMSD (Å)"), yTitlePos: [58, 108],
  label: "(a)", labelY: 25
});

drawPanel({
  bands: [{hi: rgMD1Hi, lo: rgMD1Lo}, {hi: rgMD2Hi, lo: rgMD2Lo}, {hi: rgMD3Hi, lo: rgMD3Lo},
          {hi: rgMD4Hi, lo: rgMD4Lo}, {hi: rgMD5Hi, lo: rgMD5Lo}],
  xDomain: [0, 280], xRange: [104, 737],
  yDomain: [17, 20], yRange: [459, 288],
  xTicks: timeTicks, yTicks: rgTicks,
  legendY: 313,
  xTitle: "Time (ns)", xTitlePos: [420, 541],
  yTitle: t => { t.append("tspan").text("R");
                 t.append("tspan").attr("dy", 5).style("font-size", "15px").text("g");
                 t.append("tspan").attr("dy", -5).text("(Å)"); },
  yTitlePos: [57, 375],
  label: "(b)", labelY: 292
});

drawPanel({
  series: [rmsfMD1, rmsfMD2, rmsfMD3, rmsfMD4, rmsfMD5],
  xDomain: [0, 240], xRange: [100.5, 754],
  yDomain: [0, 7], yRange: [724, 556],
  xTicks: residueTicks, yTicks: rmsfTicks,
  legendY: 579,
  xTitle: "Amino acid residue", xTitlePos: [418, 806],
  yTitle: t => t.text("RMSF (Å)"), yTitlePos: [58, 641],
  label: "(c)", labelY: 556,
  highlight: [highlightResidues[0], highlightResidues[1], highlightTop]
});
</script>
</body></html>
